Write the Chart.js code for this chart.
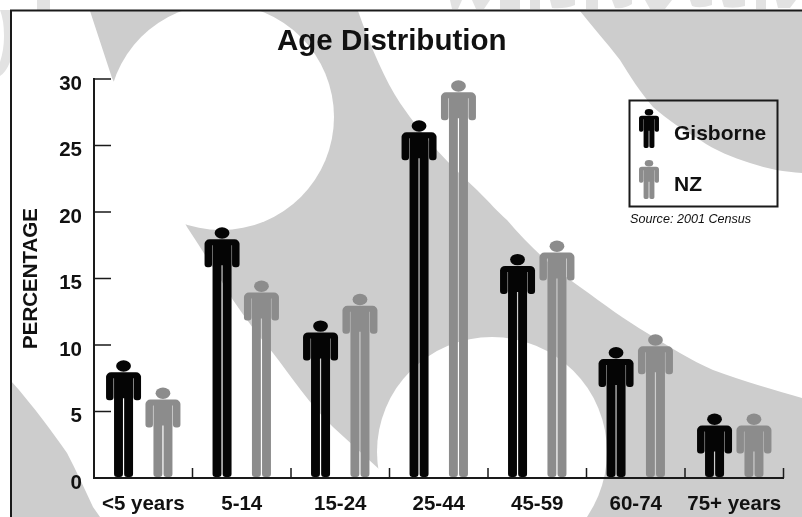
<!DOCTYPE html>
<html>
<head>
<meta charset="utf-8">
<title>Age Distribution</title>
<script src="https://cdn.jsdelivr.net/npm/chart.js@4"></script>
<style>
html, body { margin: 0; padding: 0; background: #fff; }
#wrap { position: relative; width: 802px; height: 517px; overflow: hidden; }
</style>
</head>
<body>
<div id="wrap"><canvas id="ageChart" width="802" height="517"></canvas></div>
<script>
const categories = ['<5 years', '5-14', '15-24', '25-44', '45-59', '60-74', '75+ years'];
const gisborne = [8.85, 18.85, 11.85, 26.9, 16.85, 9.85, 4.85];
const nz = [6.8, 14.85, 13.85, 29.9, 17.85, 10.8, 4.85];
const yTicks = [0, 5, 10, 15, 20, 25, 30];

const BLACK = '#050505';
const GREY = '#8c8c8c';
const TEXT = '#111';
const FONT = '"Liberation Sans", Arial, sans-serif';

// little person, head at top, feet at bottom, s scales the width and the upper body
function drawPerson(ctx, cx, top, bottom, color, s) {
    ctx.save();
    ctx.fillStyle = color;
    ctx.beginPath();
    ctx.ellipse(cx, top + 5.7 * s, 7.4 * s, 5.7 * s, 0, 0, Math.PI * 2);
    ctx.fill();
    ctx.beginPath();
    // shoulders and chest
    ctx.roundRect(cx - 17.5 * s, top + 12 * s, 35 * s, 6 * s, [5 * s, 5 * s, 0, 0]);
    ctx.rect(cx - 9.5 * s, top + 12 * s, 19 * s, 26 * s);
    // arms
    ctx.roundRect(cx - 17.5 * s, top + 16 * s, 7.5 * s, 24 * s, [0, 0, 3 * s, 3 * s]);
    ctx.roundRect(cx + 10 * s, top + 16 * s, 7.5 * s, 24 * s, [0, 0, 3 * s, 3 * s]);
    // legs
    const legTop = top + 37 * s;
    ctx.roundRect(cx - 9.5 * s, legTop, 8.9 * s, bottom - legTop, [0, 0, 3 * s, 3 * s]);
    ctx.roundRect(cx + 0.6 * s, legTop, 8.9 * s, bottom - legTop, [0, 0, 3 * s, 3 * s]);
    ctx.fill();
    ctx.restore();
}

// grey watermark behind the chart and the frame round it
const backdrop = {
    id: 'backdrop',
    beforeDraw(chart) {
        const ctx = chart.ctx;
        ctx.save();
        ctx.fillStyle = '#fff';
        ctx.fillRect(0, 0, 802, 517);

        // bits of the page watermark outside the frame
        ctx.fillStyle = '#e2e2e2';
        ctx.fill(new Path2D('M37 0H50V10H37Z M0 10H10V62Q6 72 0 76V62Q4 50 4 36Q4 20 0 10Z'));
        ctx.fill(new Path2D('M450 0H462L458 9H452Z M472 0H490L484 9H476Z M500 0H520V9H500Z M530 0H540V9H530Z M550 0H575V5Q565 9 552 8Z M586 0H598V9H586Z M612 0H632V4Q625 9 615 8Z M645 0H672L665 9H650Z M690 0H712V5Q700 9 692 6Z M722 0H745V6Q735 9 724 7Z M756 0H766V9H756Z M776 0H796L790 8H778Z'));

        ctx.beginPath();
        ctx.rect(11, 11, 791, 506);
        ctx.clip();
        ctx.fillStyle = '#cdcdcd';
        // main band, the two white circles are cut out of it afterwards
        ctx.fill(new Path2D('M90 11 L358 11 C372 50 385 80 400 103 C425 140 450 165 477 190 C490 203 498 212 507 220 C530 247 555 270 580 287 C605 305 625 320 647 333 C670 347 690 360 713 370 C745 382 775 390 802 398 L802 517 L587 517 L380 470 L333 427 C310 405 290 375 273 353 C258 335 245 318 233 300 C218 275 202 250 187 227 L112 78 Z'));
        // top right corner
        ctx.fill(new Path2D('M580 11 L802 11 L802 173 C785 172 768 169 750 163 C732 157 716 151 700 140 C683 130 668 120 653 107 C640 92 630 76 620 60 C606 42 592 26 580 11 Z'));
        // bottom left corner
        ctx.fill(new Path2D('M11 381 C22 393 33 407 43 420 C52 432 60 443 67 453 C76 470 85 490 93 507 L100 517 L11 517 Z'));
        ctx.fillStyle = '#fff';
        ctx.beginPath();
        ctx.arc(221, 117, 113, 0, Math.PI * 2);
        ctx.fill();
        ctx.beginPath();
        ctx.arc(492, 452, 115, 0, Math.PI * 2);
        ctx.fill();
        ctx.restore();

        ctx.save();
        ctx.strokeStyle = '#1a1a1a';
        ctx.lineWidth = 2;
        ctx.beginPath();
        ctx.moveTo(11, 517);
        ctx.lineTo(11, 10.5);
        ctx.lineTo(802, 10.5);
        ctx.stroke();
        ctx.restore();
    }
};

// axis tick marks point inward, so they are drawn here off the scales
const insideTicks = {
    id: 'insideTicks',
    afterDraw(chart) {
        const ctx = chart.ctx;
        const x = chart.scales.x;
        const y = chart.scales.y;
        const step = x.getPixelForValue(1) - x.getPixelForValue(0);
        ctx.save();
        ctx.strokeStyle = '#1a1a1a';
        ctx.lineWidth = 1.5;
        ctx.beginPath();
        yTicks.forEach(v => {
            const py = y.getPixelForValue(v);
            ctx.moveTo(x.left, py);
            ctx.lineTo(x.left + 17, py);
        });
        categories.forEach((c, i) => {
            const px = x.getPixelForValue(i) + step / 2;
            ctx.moveTo(px, y.bottom);
            ctx.lineTo(px, y.bottom - 10);
        });
        ctx.stroke();
        ctx.restore();
    }
};

// each bar is drawn as a person standing on the axis
const people = {
    id: 'people',
    afterDatasetsDraw(chart) {
        chart.data.datasets.forEach((ds, i) => {
            chart.getDatasetMeta(i).data.forEach(bar => {
                drawPerson(chart.ctx, bar.x, bar.y, bar.base - 1, ds.personColor, 1);
            });
        });
    }
};

const personLegend = {
    id: 'personLegend',
    afterDraw(chart) {
        const ctx = chart.ctx;
        ctx.save();
        ctx.strokeStyle = '#1a1a1a';
        ctx.lineWidth = 2;
        ctx.strokeRect(629.5, 100.5, 148, 106);

        const rows = [{ top: 109, text: 134 }, { top: 160, text: 185 }];
        chart.data.datasets.forEach((ds, i) => {
            drawPerson(ctx, 649, rows[i].top, rows[i].top + 39, ds.personColor, 0.57);
            ctx.fillStyle = TEXT;
            ctx.font = 'bold 21px ' + FONT;
            ctx.textAlign = 'left';
            ctx.textBaseline = 'middle';
            ctx.fillText(ds.label, 674, rows[i].text);
        });

        ctx.font = 'italic 12.6px ' + FONT;
        ctx.fillStyle = TEXT;
        ctx.fillText('Source: 2001 Census', 630, 219.5);
        ctx.restore();
    }
};

new Chart(document.getElementById('ageChart').getContext('2d'), {
    type: 'bar',
    plugins: [backdrop, people, insideTicks, personLegend],
    data: {
        labels: categories,
        datasets: [
            { label: 'Gisborne', data: gisborne, personColor: BLACK, backgroundColor: 'transparent' },
            { label: 'NZ', data: nz, personColor: GREY, backgroundColor: 'transparent' }
        ]
    },
    options: {
        responsive: false,
        animation: false,
        devicePixelRatio: 1,
        layout: { padding: { left: 0, right: 18.5, top: 0, bottom: 0 } },
        datasets: { bar: { barPercentage: 1, categoryPercentage: 0.8 } },
        plugins: {
            legend: { display: false },
            tooltip: { enabled: false },
            title: {
                display: true,
                text: 'Age Distribution',
                color: TEXT,
                font: { family: FONT, size: 29.5, weight: 'bold' },
                padding: { top: 24, bottom: 19.6 }
            }
        },
        scales: {
            x: {
                afterFit(scale) { scale.height = 39; },
                grid: { display: false, drawTicks: false },
                border: { display: true, color: '#1a1a1a', width: 2 },
                ticks: {
                    color: TEXT,
                    padding: 14,
                    maxRotation: 0,
                    autoSkip: false,
                    font: { family: FONT, size: 20.5, weight: 'bold' }
                }
            },
            y: {
                min: 0,
                max: 30,
                afterFit(scale) { scale.width = 94; },
                grid: { display: false, drawTicks: false },
                border: { display: true, color: '#1a1a1a', width: 2 },
                title: {
                    display: true,
                    text: 'PERCENTAGE',
                    color: TEXT,
                    font: { family: FONT, size: 20.5, weight: 'bold' },
                    padding: { top: 19, bottom: 0 }
                },
                ticks: {
                    stepSize: 5,
                    color: TEXT,
                    padding: 12,
                    labelOffset: 5,
                    font: { family: FONT, size: 20.5, weight: 'bold' }
                }
            }
        }
    }
});
</script>
</body>
</html>
